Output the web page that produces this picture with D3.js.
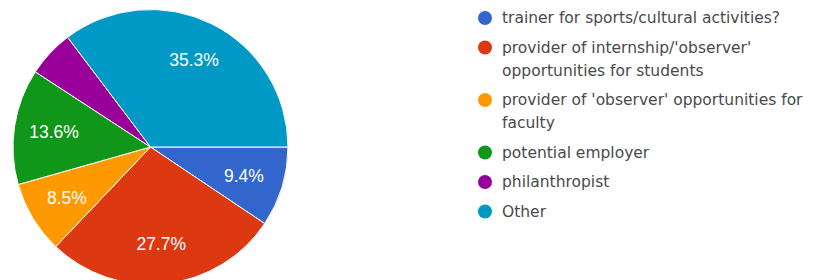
<!DOCTYPE html>
<html>
<head>
<meta charset="utf-8">
<script src="https://cdn.jsdelivr.net/npm/d3@7"></script>
<style>
  html, body { margin: 0; padding: 0; background: #fff; }
  svg { display: block; }
</style>
</head>
<body>
<svg id="chart" width="816" height="280"></svg>
<script>
const categories = [
  "trainer for sports/cultural activities?",
  "provider of internship/'observer' opportunities for students",
  "provider of 'observer' opportunities for faculty",
  "potential employer",
  "philanthropist",
  "Other"
];
const legendLines = [
  ["trainer for sports/cultural activities?"],
  ["provider of internship/'observer'", "opportunities for students"],
  ["provider of 'observer' opportunities for", "faculty"],
  ["potential employer"],
  ["philanthropist"],
  ["Other"]
];
const values = [9.4, 27.7, 8.5, 13.6, 5.5, 35.3];
const colors = ["#3366cc", "#dc3912", "#ff9900", "#109618", "#990099", "#0099c6"];

const svg = d3.select("#chart");
const cx = 150.5, cy = 147, R = 137.5;

const pie = d3.pie().sort(null).value(d => d)
  .startAngle(Math.PI / 2).endAngle(Math.PI / 2 + 2 * Math.PI);
const arcs = pie(values);
const arc = d3.arc().innerRadius(0).outerRadius(R);
const labelArc = d3.arc().innerRadius(R * 0.71).outerRadius(R * 0.71);

const g = svg.append("g").attr("transform", `translate(${cx},${cy})`);
g.selectAll("path").data(arcs).join("path")
  .attr("d", arc)
  .attr("fill", (d, i) => colors[i])
  .attr("stroke", "#fff")
  .attr("stroke-width", 1);

g.selectAll("text").data(arcs.filter(d => d.data >= 6)).join("text")
  .attr("transform", d => `translate(${labelArc.centroid(d)})`)
  .attr("text-anchor", "middle")
  .attr("dy", "0.35em")
  .attr("fill", "#fff")
  .attr("font-family", "'Liberation Sans', Arial, sans-serif")
  .attr("font-size", 17.5)
  .text(d => d.data.toFixed(1) + "%");

// Legend
const lx = 485, tx = 502, lineH = 23, itemGap = 29.5;
let y = 18;
const legend = svg.append("g");
categories.forEach((c, i) => {
  const item = legend.append("g");
  item.append("circle").attr("cx", lx).attr("cy", y).attr("r", 7).attr("fill", colors[i]);
  const t = item.append("text")
    .attr("font-family", "'DejaVu Sans', sans-serif")
    .attr("font-size", 15.5)
    .attr("fill", "#4a4a4a");
  legendLines[i].forEach((ln, k) => {
    t.append("tspan").attr("x", tx).attr("y", y + k * lineH).attr("dy", "0.35em").text(ln);
  });
  y += (legendLines[i].length - 1) * lineH + itemGap;
});
</script>
</body>
</html>
